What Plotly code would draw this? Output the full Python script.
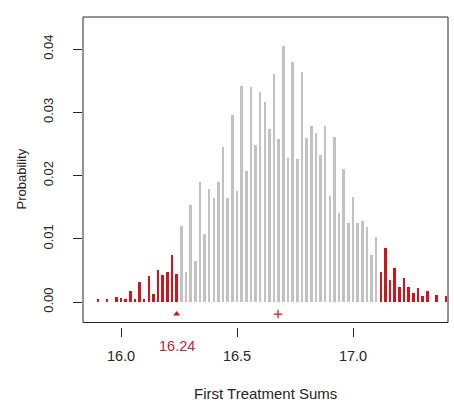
import plotly.graph_objects as go

# Permutation distribution of the first-treatment sum
sums = [15.90, 15.94, 15.98, 16.00, 16.02, 16.04, 16.06, 16.08, 16.10, 16.12,
        16.14, 16.16, 16.18, 16.20, 16.22, 16.24, 16.26, 16.28, 16.30, 16.32,
        16.34, 16.36, 16.38, 16.40, 16.42, 16.44, 16.46, 16.48, 16.50, 16.52,
        16.54, 16.56, 16.58, 16.60, 16.62, 16.64, 16.66, 16.68, 16.70, 16.72,
        16.74, 16.76, 16.78, 16.80, 16.82, 16.84, 16.86, 16.88, 16.90, 16.92,
        16.94, 16.96, 16.98, 17.00, 17.02, 17.04, 17.06, 17.08, 17.10, 17.12,
        17.14, 17.16, 17.18, 17.20, 17.22, 17.24, 17.26, 17.28, 17.30, 17.32,
        17.36, 17.40]
probs = [0.0004, 0.0004, 0.0008, 0.0006, 0.0004, 0.0017, 0.0004, 0.0032, 0.0005, 0.0041,
         0.0013, 0.0051, 0.0043, 0.0047, 0.0074, 0.0045, 0.0120, 0.0047, 0.0154, 0.0065,
         0.0190, 0.0107, 0.0178, 0.0164, 0.0190, 0.0245, 0.0165, 0.0295, 0.0175, 0.0342,
         0.0207, 0.0340, 0.0249, 0.0332, 0.0317, 0.0274, 0.0361, 0.0257, 0.0405, 0.0228,
         0.0380, 0.0226, 0.0363, 0.0260, 0.0279, 0.0267, 0.0232, 0.0279, 0.0167, 0.0261,
         0.0140, 0.0210, 0.0125, 0.0166, 0.0125, 0.0128, 0.0119, 0.0074, 0.0103, 0.0047,
         0.0086, 0.0035, 0.0053, 0.0024, 0.0038, 0.0023, 0.0015, 0.0022, 0.0009, 0.0017,
         0.0011, 0.0009]

observed = 16.24
expected = 16.677
x_ticks = [16.0, 16.5, 17.0]
y_ticks = [0.00, 0.01, 0.02, 0.03, 0.04]

RED = "#d0141c"
GREY = "#c2c2c2"
INK = "#262626"
FONT = "Liberation Sans, Arial, sans-serif"

cut = abs(observed - expected) - 1e-9
colors = [RED if abs(s - expected) >= cut else GREY for s in sums]

fig = go.Figure()
fig.add_trace(go.Bar(x=sums, y=probs, width=0.011, marker=dict(color=colors, line=dict(width=0)),
                     hoverinfo="x+y", showlegend=False))

marker_y = -0.0019
fig.add_trace(go.Scatter(x=[observed], y=[marker_y], mode="markers",
                         marker=dict(symbol="triangle-up", size=6, color=RED),
                         showlegend=False))
fig.add_trace(go.Scatter(x=[expected], y=[marker_y], mode="markers",
                         marker=dict(symbol="cross-thin", size=6, color=RED,
                                     line=dict(width=1.2, color=RED)),
                         showlegend=False))

W, H = 454, 402
L, R, T, B = 83, 6, 17, 75
ph = H - T - B

fig.update_layout(
    width=W, height=H,
    margin=dict(l=L, r=R, t=T, b=B, pad=0),
    paper_bgcolor="white", plot_bgcolor="white",
    bargap=0,
    font=dict(family=FONT, size=12, color=INK),
    xaxis=dict(range=[15.8362, 17.4095], tickvals=x_ticks, tickformat=".1f",
               ticks="outside", ticklen=9, tickcolor=INK, tickwidth=1,
               showgrid=False, zeroline=False, showline=False,
               ticklabelstandoff=7, tickfont=dict(family=FONT, size=14.5, color=INK)),
    yaxis=dict(range=[-0.00395, 0.04506], tickvals=y_ticks, tickformat=".2f",
               ticks="outside", ticklen=9, tickcolor=INK, tickwidth=1,
               tickangle=-90, showgrid=False, zeroline=False, showline=False,
               ticklabelstandoff=15, tickfont=dict(family=FONT, size=13, color=INK)),
    shapes=[dict(type="rect", xref="paper", yref="paper",
                 x0=0, x1=1, y0=4.5 / ph, y1=1,
                 line=dict(color=INK, width=1))],
    annotations=[
        dict(text="16.24", x=observed, xref="x", y=0, yref="paper",
             yanchor="middle", yshift=-19, showarrow=False,
             font=dict(family=FONT, size=14.5, color="#b8283a")),
        dict(text="First Treatment Sums", x=0.5, xref="paper", y=0, yref="paper",
             yanchor="middle", yshift=-66, showarrow=False,
             font=dict(family=FONT, size=15, color=INK)),
        dict(text="Probability", x=0, xref="paper", xshift=-72, y=0.5, yref="paper",
             yshift=-7, textangle=-90, showarrow=False,
             font=dict(family=FONT, size=13, color=INK)),
    ],
)

fig.write_html("out.html")
